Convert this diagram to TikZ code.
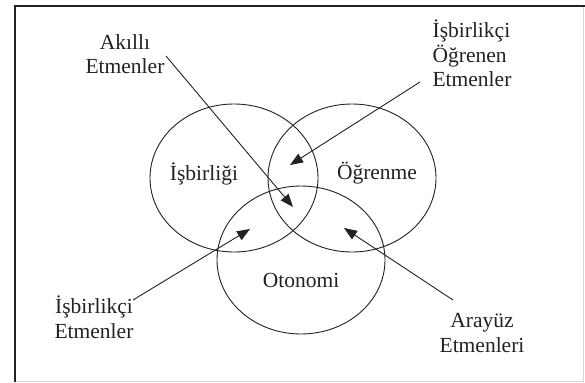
\documentclass[tikz,border=0pt]{standalone}
\usepackage{fontspec}
\setmainfont{Liberation Serif}
\usetikzlibrary{arrows.meta,shapes.geometric}
\definecolor{ink}{HTML}{222222}
\definecolor{frameedge}{HTML}{D6D6D6}
\begin{document}
\begin{tikzpicture}[x=1pt,y=-1pt,
  set/.style={draw=ink, line width=0.9pt, ellipse, minimum width=168pt, minimum height=148pt, inner sep=0pt},
  lbl/.style={text=ink, inner sep=0pt, anchor=base, align=center, font=\fontsize{21.5}{24.5}\selectfont},
  pointer/.style={draw=ink, line width=0.9pt, -{Triangle[length=13pt,width=10pt]}}]
\useasboundingbox (0,0) rectangle (585,382);
% frame
\fill[white] (0,0) rectangle (585,382);
\draw[frameedge, line width=1pt] (583,6) -- (583,381) -- (15,381);
\draw[ink, line width=2.2pt] (15,382) -- (15,6) -- (585,6);
% the three sets
\node[set] (isb) at (234,178) {};
\node[set] (ogr) at (352,178) {};
\node[set] (oto) at (301,260) {};
\node[lbl] (tisb) at (204,180) {İşbirliği};
\node[lbl] (togr) at (377,179) {Öğrenme};
\node[lbl] (toto) at (301,287) {Otonomi};
% outer labels (base anchor sits on the last line)
\node[lbl] (akilli) at (125,74) {Akıllı\\Etmenler};
\node[lbl, align=left] (iboe) at (472,87) {İşbirlikçi\\Öğrenen\\Etmenler};
\node[lbl] (ibe) at (94,338) {İşbirlikçi\\Etmenler};
\node[lbl] (arayuz) at (482,352) {Arayüz\\Etmenleri};
% pointer ends
\coordinate (s1) at (166,56);  \coordinate (t1) at (293,207);
\coordinate (s2) at (420,82);  \coordinate (t2) at (290,165);
\coordinate (s3) at (133,300); \coordinate (t3) at (250,229);
\coordinate (s4) at (453,300); \coordinate (t4) at (344,228);
\draw[pointer] (s1) -- (t1);
\draw[pointer] (s2) -- (t2);
\draw[pointer] (s3) -- (t3);
\draw[pointer] (s4) -- (t4);
\end{tikzpicture}
\end{document}
